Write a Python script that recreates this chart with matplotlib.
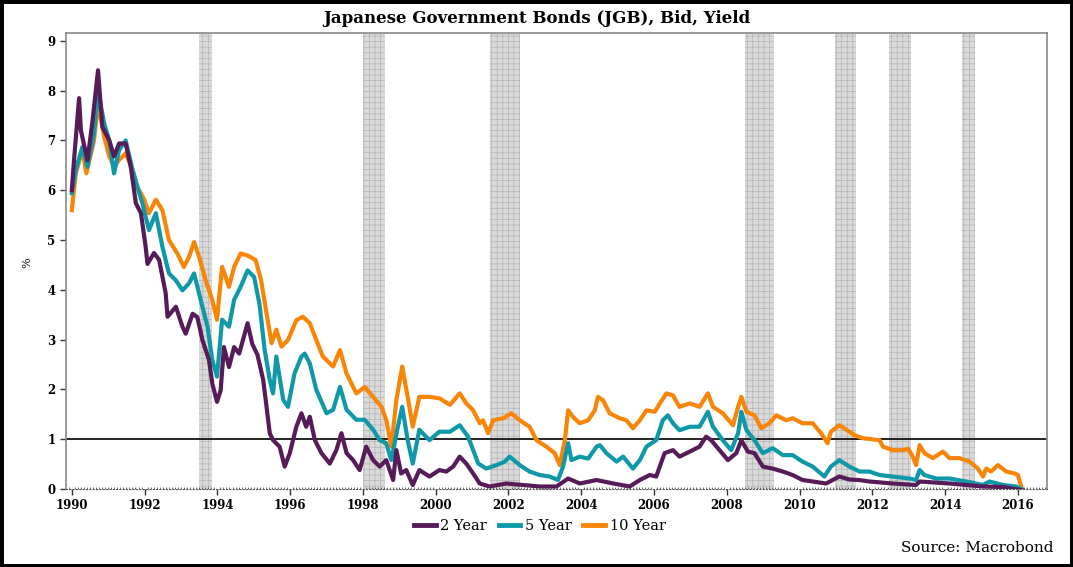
import matplotlib
matplotlib.use("Agg")
import matplotlib.pyplot as plt
from matplotlib.patches import Rectangle
from matplotlib.ticker import MultipleLocator

# decimal years / % yields
t2 = [1990.0, 1990.06, 1990.2, 1990.25, 1990.43, 1990.57, 1990.72, 1990.84, 1991.03, 1991.16,
      1991.3, 1991.48, 1991.62, 1991.76, 1991.9, 1992.03, 1992.08, 1992.26, 1992.4, 1992.58,
      1992.63, 1992.86, 1993.04, 1993.13, 1993.32, 1993.45, 1993.59, 1993.77, 1993.86, 1993.99,
      1994.09, 1994.18, 1994.32, 1994.46, 1994.6, 1994.83, 1994.96, 1995.1, 1995.26, 1995.35,
      1995.44, 1995.53, 1995.71, 1995.85, 1995.99, 1996.17, 1996.31, 1996.44, 1996.54, 1996.68,
      1996.86, 1997.09, 1997.27, 1997.41, 1997.55, 1997.73, 1997.91, 1998.09, 1998.28, 1998.46,
      1998.64, 1998.83, 1998.92, 1999.05, 1999.19, 1999.37, 1999.55, 1999.83, 2000.1, 2000.29,
      2000.48, 2000.66, 2000.84, 2001.03, 2001.21, 2001.48, 2001.94, 2002.4, 2002.86, 2003.32,
      2003.64, 2003.96, 2004.42, 2004.88, 2005.33, 2005.61, 2005.88, 2006.06, 2006.29, 2006.52,
      2006.7, 2006.98, 2007.25, 2007.43, 2007.57, 2007.8, 2008.03, 2008.26, 2008.4, 2008.58,
      2008.76, 2008.99, 2009.26, 2009.54, 2009.81, 2010.08, 2010.36, 2010.73, 2011.09, 2011.37,
      2011.64, 2011.92, 2012.56, 2013.2, 2013.3, 2014.12, 2015.04, 2015.59, 2016.09]
y2 = [6.0, 6.6, 7.85, 7.2, 6.6, 7.4, 8.41, 7.27, 7.0, 6.68,
      6.94, 6.94, 6.47, 5.74, 5.54, 4.86, 4.52, 4.74, 4.6, 3.93,
      3.46, 3.66, 3.26, 3.12, 3.52, 3.45, 2.99, 2.59, 2.12, 1.75,
      1.98, 2.85, 2.45, 2.85, 2.72, 3.33, 2.91, 2.7, 2.19, 1.66,
      1.12, 0.98, 0.85, 0.45, 0.72, 1.25, 1.52, 1.25, 1.45, 0.98,
      0.72, 0.51, 0.78, 1.12, 0.72, 0.58, 0.38, 0.85, 0.58, 0.45,
      0.58, 0.18, 0.78, 0.31, 0.38, 0.08, 0.38, 0.25, 0.38, 0.35,
      0.45, 0.65, 0.51, 0.31, 0.11, 0.05, 0.11, 0.08, 0.05, 0.05,
      0.21, 0.11, 0.18, 0.11, 0.05, 0.18, 0.28, 0.25, 0.72, 0.78,
      0.65, 0.75, 0.85, 1.05, 0.98, 0.78, 0.58, 0.72, 0.98, 0.75,
      0.72, 0.45, 0.41, 0.35, 0.28, 0.18, 0.15, 0.11, 0.25, 0.19,
      0.18, 0.15, 0.11, 0.08, 0.15, 0.11, 0.05, 0.04, -0.02]

t5 = [1990.0, 1990.11, 1990.29, 1990.43, 1990.61, 1990.72, 1990.89, 1991.03, 1991.16, 1991.3,
      1991.48, 1991.67, 1991.8, 1991.94, 1992.12, 1992.31, 1992.49, 1992.67, 1992.86, 1993.04,
      1993.22, 1993.36, 1993.54, 1993.73, 1993.86, 1993.99, 1994.13, 1994.32, 1994.46, 1994.64,
      1994.83, 1995.01, 1995.16, 1995.3, 1995.44, 1995.53, 1995.62, 1995.81, 1995.94, 1996.12,
      1996.31, 1996.4, 1996.54, 1996.72, 1997.0, 1997.18, 1997.37, 1997.55, 1997.82, 1998.05,
      1998.28, 1998.46, 1998.64, 1998.78, 1998.96, 1999.08, 1999.23, 1999.37, 1999.55, 1999.83,
      2000.1, 2000.39, 2000.66, 2000.89, 2001.03, 2001.17, 2001.39, 2001.67, 2001.9, 2002.03,
      2002.31, 2002.58, 2002.86, 2003.13, 2003.36, 2003.5, 2003.64, 2003.73, 2003.96, 2004.19,
      2004.42, 2004.51, 2004.69, 2004.97, 2005.15, 2005.42, 2005.61, 2005.79, 2006.06, 2006.24,
      2006.38, 2006.52, 2006.7, 2006.98, 2007.25, 2007.48, 2007.62, 2007.89, 2008.12, 2008.31,
      2008.4, 2008.54, 2008.76, 2008.99, 2009.26, 2009.54, 2009.81, 2010.08, 2010.36, 2010.68,
      2010.86, 2011.09, 2011.37, 2011.65, 2011.92, 2012.2, 2012.56, 2013.02, 2013.2, 2013.3,
      2013.43, 2013.75, 2014.12, 2014.58, 2015.04, 2015.22, 2015.59, 2015.96, 2016.09]
y5 = [5.94, 6.41, 6.87, 6.47, 7.14, 8.01, 7.34, 7.0, 6.34, 6.81,
      7.0, 6.41, 6.07, 5.74, 5.2, 5.54, 4.86, 4.33, 4.19, 3.99,
      4.13, 4.33, 3.8, 3.26, 2.59, 2.26, 3.4, 3.26, 3.8, 4.06,
      4.39, 4.26, 3.7, 2.79, 2.19, 1.92, 2.66, 1.79, 1.65, 2.32,
      2.66, 2.72, 2.52, 1.99, 1.52, 1.59, 2.05, 1.59, 1.39, 1.39,
      1.19, 0.98, 0.92, 0.58, 1.25, 1.65, 0.98, 0.51, 1.19, 0.98,
      1.15, 1.15, 1.28, 1.05, 0.78, 0.51, 0.41, 0.48, 0.55, 0.65,
      0.48, 0.35, 0.28, 0.25, 0.18, 0.45, 0.92, 0.58, 0.65, 0.61,
      0.85, 0.88, 0.72, 0.55, 0.65, 0.41, 0.58, 0.85, 0.98, 1.38,
      1.48, 1.32, 1.18, 1.25, 1.25, 1.55, 1.25, 0.98, 0.78, 1.12,
      1.55, 1.18, 0.98, 0.72, 0.82, 0.68, 0.68, 0.55, 0.45, 0.25,
      0.45, 0.58, 0.45, 0.35, 0.35, 0.28, 0.25, 0.21, 0.18, 0.38,
      0.28, 0.21, 0.21, 0.15, 0.08, 0.15, 0.08, 0.05, 0.0]

t10 = [1990.0, 1990.11, 1990.29, 1990.4, 1990.61, 1990.72, 1990.89, 1991.03, 1991.16, 1991.3,
       1991.48, 1991.67, 1991.8, 1991.99, 1992.12, 1992.31, 1992.49, 1992.67, 1992.9, 1993.08,
       1993.22, 1993.36, 1993.5, 1993.68, 1993.86, 1993.99, 1994.13, 1994.32, 1994.46, 1994.64,
       1994.83, 1995.05, 1995.2, 1995.35, 1995.49, 1995.62, 1995.76, 1995.94, 1996.17, 1996.35,
       1996.54, 1996.72, 1996.9, 1997.18, 1997.37, 1997.55, 1997.82, 1998.05, 1998.28, 1998.51,
       1998.64, 1998.78, 1998.92, 1999.08, 1999.23, 1999.37, 1999.55, 1999.83, 2000.11, 2000.39,
       2000.66, 2000.84, 2001.03, 2001.21, 2001.3, 2001.44, 2001.58, 2001.85, 2002.08, 2002.31,
       2002.58, 2002.77, 2003.04, 2003.27, 2003.41, 2003.55, 2003.64, 2003.77, 2003.96, 2004.19,
       2004.37, 2004.46, 2004.6, 2004.78, 2005.06, 2005.24, 2005.42, 2005.61, 2005.79, 2006.02,
       2006.16, 2006.34, 2006.52, 2006.7, 2006.98, 2007.25, 2007.48, 2007.62, 2007.89, 2008.17,
       2008.31, 2008.4, 2008.54, 2008.76, 2008.95, 2009.17, 2009.36, 2009.63, 2009.81, 2010.08,
       2010.36, 2010.59, 2010.77, 2010.86, 2011.09, 2011.37, 2011.51, 2011.74, 2012.2, 2012.29,
       2012.56, 2012.84, 2012.98, 2013.11, 2013.2, 2013.3, 2013.43, 2013.66, 2013.94, 2014.12,
       2014.39, 2014.67, 2014.9, 2015.04, 2015.13, 2015.26, 2015.45, 2015.68, 2015.91, 2016.0,
       2016.09]
y10 = [5.6, 6.34, 6.81, 6.34, 7.0, 7.74, 7.07, 6.68, 6.47, 6.61,
       6.74, 6.41, 6.07, 5.81, 5.54, 5.81, 5.6, 5.0, 4.73, 4.46,
       4.66, 4.96, 4.66, 4.19, 3.8, 3.4, 4.46, 4.06, 4.46, 4.73,
       4.69, 4.6, 4.2, 3.53, 2.93, 3.2, 2.86, 2.99, 3.39, 3.46,
       3.33, 2.99, 2.66, 2.46, 2.79, 2.32, 1.92, 2.05, 1.85, 1.65,
       1.39, 0.85, 1.79, 2.46, 1.85, 1.25, 1.85, 1.85, 1.82, 1.69,
       1.92, 1.72, 1.58, 1.32, 1.38, 1.12, 1.38, 1.42, 1.52, 1.38,
       1.25, 0.98, 0.85, 0.72, 0.48, 0.98, 1.58, 1.45, 1.32, 1.38,
       1.58, 1.85, 1.78, 1.52, 1.42, 1.38, 1.22, 1.38, 1.58, 1.55,
       1.72, 1.92, 1.88, 1.65, 1.72, 1.65, 1.92, 1.65, 1.52, 1.28,
       1.65, 1.85, 1.55, 1.48, 1.22, 1.32, 1.48, 1.38, 1.42, 1.32,
       1.32, 1.12, 0.92, 1.15, 1.28, 1.15, 1.08, 1.02, 0.98, 0.85,
       0.78, 0.78, 0.81, 0.65, 0.48, 0.88, 0.72, 0.62, 0.75, 0.62,
       0.62, 0.55, 0.41, 0.25, 0.41, 0.35, 0.48, 0.35, 0.31, 0.28,
       0.05]

# recession periods (start, end)
rec_start = [1993.49, 1997.99, 2001.48, 2008.49, 2010.96, 2012.47, 2014.45]
rec_end = [1993.85, 1998.6, 2002.31, 2009.31, 2011.54, 2013.05, 2014.81]

year_ticks = list(range(1990, 2017, 2))
series_names = ["2 Year", "5 Year", "10 Year"]
colors = ["#561b58", "#0f99a8", "#f98507"]

plt.rcParams['font.family'] = ['DejaVu Serif']
plt.rcParams['hatch.linewidth'] = 0.5

fig = plt.figure(figsize=(10.73, 5.67), dpi=100)
ax = fig.add_axes([0.0615, 0.1376, 0.9143, 0.8034])

for s, e in zip(rec_start, rec_end):
    ax.axvspan(s, e, facecolor='#dadada', edgecolor='#b4b4b4', hatch='+++', lw=0, zorder=1)

ax.axhline(1, color='black', lw=1.2, zorder=2)

ax.plot(t10, y10, color=colors[2], lw=3, zorder=3, solid_joinstyle='round')
ax.plot(t5, y5, color=colors[1], lw=3, zorder=4, solid_joinstyle='round')
ax.plot(t2, y2, color=colors[0], lw=3, zorder=5, solid_joinstyle='round')

ax.set_xlim(1989.84, 2016.8)
ax.set_ylim(0, 9.15)
ax.set_xticks(year_ticks)
ax.xaxis.set_minor_locator(MultipleLocator(1 / 12))
ax.set_yticks(range(0, 10))
ax.tick_params(axis='both', which='major', labelsize=8.5, color='#333333', length=4, width=1)
ax.tick_params(axis='x', which='minor', direction='in', length=1.5, color='#555555')
for lab in ax.get_xticklabels() + ax.get_yticklabels():
    lab.set_fontweight('bold')

for side in ['left', 'top', 'right']:
    ax.spines[side].set_color('#8a8a8a')
    ax.spines[side].set_linewidth(1.2)
ax.spines['bottom'].set_color('#555555')
ax.spines['bottom'].set_linestyle((0, (1, 2)))
ax.spines['bottom'].set_linewidth(0.8)

fig.text(0.0255, 0.537, "%", rotation=90, fontsize=8, ha='center', va='center')
fig.text(0.5, 0.968, "Japanese Government Bonds (JGB), Bid, Yield",
         ha='center', va='center', fontsize=12, fontweight='bold')

handles = ax.get_lines()[1:][::-1]
leg = fig.legend(handles, series_names, loc='center', bbox_to_anchor=(0.503, 0.073),
                 ncol=3, frameon=False, fontsize=10.5, handlelength=1.5, handletextpad=0.3,
                 columnspacing=0.8)
for h in leg.legend_handles:
    h.set_linewidth(3.5)

fig.text(0.982, 0.033, "Source: Macrobond", ha='right', va='center', fontsize=11)

fig.patches.append(Rectangle((0, 0), 1, 1, transform=fig.transFigure, fill=False,
                             lw=5, edgecolor='black'))

fig.savefig("out.png", dpi=100)
